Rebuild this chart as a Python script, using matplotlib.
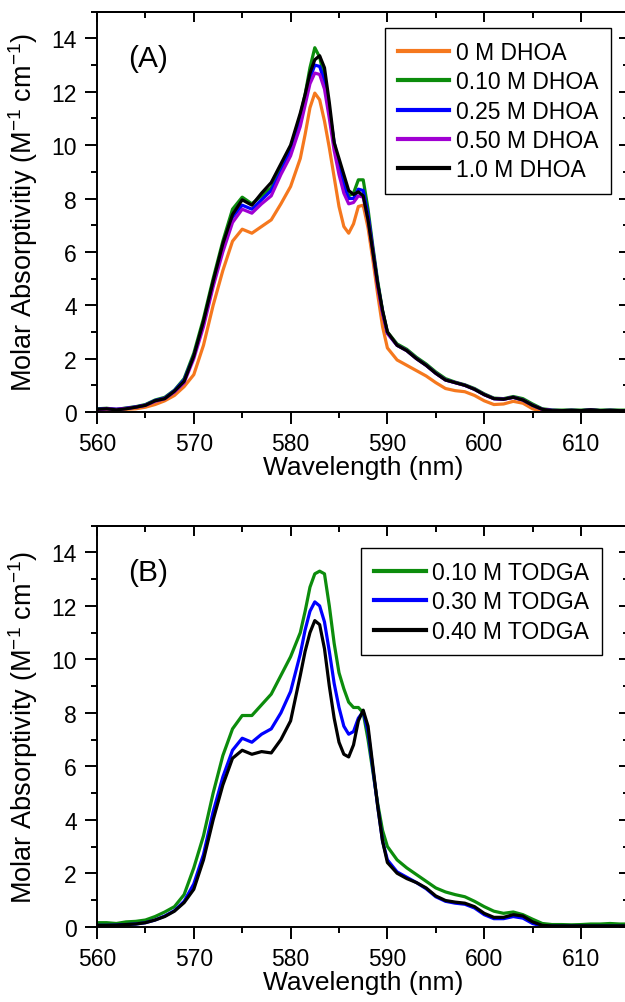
import matplotlib
matplotlib.use("Agg")
import matplotlib.pyplot as plt
from matplotlib.ticker import MultipleLocator

plt.rcParams['font.family'] = ['Liberation Sans', 'DejaVu Sans']
plt.rcParams['mathtext.fontset'] = 'custom'
plt.rcParams['mathtext.rm'] = 'Liberation Sans'
plt.rcParams['mathtext.it'] = 'Liberation Sans:italic'

# ---------------- data ----------------
wl = [560, 561, 562, 563, 564, 565, 566, 567, 568, 569, 570, 571, 572, 573, 574,
      575, 576, 577, 578, 579, 580, 581, 581.5, 582, 582.5, 583, 583.5, 584, 584.5,
      585, 585.5, 586, 586.5, 587, 587.5, 588, 588.5, 589, 589.5, 590, 591, 592,
      593, 594, 595, 596, 597, 598, 599, 600, 601, 602, 603, 604, 605, 606, 607,
      608, 609, 610, 611, 612, 613, 614, 615]

# Panel A (DHOA)
dhoa_0 = [0.05, 0.05, 0.08, 0.10, 0.12, 0.18, 0.28, 0.42, 0.62, 0.95, 1.4, 2.5, 4.0, 5.3, 6.4,
          6.85, 6.7, 6.95, 7.2, 7.8, 8.45, 9.5, 10.4, 11.4, 11.95, 11.7, 10.9, 9.9, 8.8,
          7.7, 6.95, 6.7, 7.05, 7.7, 7.75, 6.9, 5.7, 4.4, 3.2, 2.4, 1.95, 1.75,
          1.55, 1.35, 1.1, 0.88, 0.8, 0.76, 0.62, 0.42, 0.28, 0.3, 0.4, 0.33, 0.12, 0.02, 0.0,
          0.0, 0.0, 0.0, 0.0, 0.0, 0.0, 0.0, 0.0]
dhoa_010 = [0.12, 0.14, 0.1, 0.15, 0.2, 0.28, 0.45, 0.55, 0.82, 1.25, 2.2, 3.5, 5.0, 6.4, 7.6,
            8.05, 7.8, 8.1, 8.4, 9.1, 9.9, 11.1, 11.9, 12.9, 13.65, 13.3, 12.5, 11.2, 10.0,
            9.2, 8.6, 8.1, 8.2, 8.7, 8.7, 7.6, 6.2, 4.9, 3.8, 3.0, 2.55, 2.35,
            2.05, 1.8, 1.5, 1.25, 1.12, 1.02, 0.88, 0.68, 0.52, 0.5, 0.58, 0.5, 0.3, 0.12, 0.08,
            0.07, 0.08, 0.07, 0.09, 0.07, 0.08, 0.07, 0.07]
dhoa_025 = [0.1, 0.13, 0.1, 0.14, 0.19, 0.26, 0.43, 0.52, 0.8, 1.2, 2.1, 3.3, 4.8, 6.2, 7.3,
            7.75, 7.6, 7.95, 8.3, 9.0, 9.8, 10.9, 11.7, 12.5, 13.0, 12.95, 12.4, 11.3, 10.1,
            9.2, 8.5, 8.0, 8.0, 8.35, 8.3, 7.4, 6.1, 4.8, 3.75, 2.95, 2.5, 2.3,
            2.0, 1.75, 1.45, 1.2, 1.1, 1.0, 0.85, 0.65, 0.5, 0.48, 0.55, 0.45, 0.25, 0.1, 0.06,
            0.05, 0.06, 0.05, 0.07, 0.05, 0.06, 0.05, 0.05]
dhoa_050 = [0.08, 0.12, 0.1, 0.13, 0.18, 0.25, 0.4, 0.5, 0.75, 1.1, 2.0, 3.2, 4.7, 6.0, 7.1,
            7.6, 7.45, 7.8, 8.1, 8.9, 9.6, 10.7, 11.5, 12.3, 12.7, 12.65, 12.1, 11.0, 9.8,
            8.9, 8.2, 7.8, 7.85, 8.1, 8.05, 7.2, 6.0, 4.7, 3.7, 2.95, 2.5, 2.3,
            2.0, 1.75, 1.45, 1.2, 1.1, 1.0, 0.85, 0.65, 0.5, 0.48, 0.55, 0.45, 0.25, 0.1, 0.06,
            0.05, 0.06, 0.05, 0.07, 0.05, 0.06, 0.05, 0.05]
dhoa_100 = [0.1, 0.12, 0.08, 0.12, 0.18, 0.25, 0.42, 0.5, 0.78, 1.15, 2.1, 3.4, 4.9, 6.3, 7.4,
            7.95, 7.75, 8.2, 8.6, 9.3, 10.0, 11.2, 11.9, 12.7, 13.2, 13.35, 12.9, 11.6, 10.1,
            9.5, 8.9, 8.3, 8.15, 8.25, 8.1, 7.2, 6.0, 4.8, 3.8, 3.0, 2.5, 2.3,
            2.0, 1.75, 1.45, 1.2, 1.1, 1.0, 0.85, 0.65, 0.5, 0.48, 0.55, 0.45, 0.25, 0.1, 0.05,
            0.05, 0.06, 0.05, 0.08, 0.05, 0.06, 0.05, 0.05]

# Panel B (TODGA)
todga_010 = [0.15, 0.15, 0.12, 0.18, 0.2, 0.25, 0.38, 0.55, 0.75, 1.2, 2.2, 3.4, 5.0, 6.4, 7.4,
             7.9, 7.9, 8.3, 8.7, 9.4, 10.1, 11.0, 11.8, 12.7, 13.2, 13.3, 13.2, 12.0, 10.6,
             9.5, 8.9, 8.4, 8.2, 8.2, 8.0, 7.0, 5.8, 4.6, 3.6, 3.0, 2.5, 2.2,
             1.95, 1.7, 1.45, 1.3, 1.2, 1.12, 0.95, 0.75, 0.58, 0.5, 0.55, 0.45, 0.28, 0.12, 0.08,
             0.08, 0.07, 0.08, 0.1, 0.1, 0.12, 0.1, 0.1]
todga_030 = [0.05, 0.05, 0.06, 0.08, 0.1, 0.15, 0.25, 0.4, 0.6, 0.95, 1.6, 2.7, 4.3, 5.6, 6.6,
             7.05, 6.9, 7.2, 7.4, 8.0, 8.8, 10.2, 11.1, 11.8, 12.15, 12.0, 11.4, 10.3, 9.1,
             8.2, 7.5, 7.2, 7.3, 7.8, 8.05, 7.3, 5.9, 4.5, 3.2, 2.5, 2.05, 1.85,
             1.65, 1.42, 1.12, 0.95, 0.88, 0.84, 0.7, 0.45, 0.3, 0.3, 0.38, 0.32, 0.12, 0.02, 0.02,
             0.02, 0.02, 0.02, 0.02, 0.02, 0.02, 0.02, 0.02]
todga_040 = [0.05, 0.05, 0.06, 0.08, 0.1, 0.15, 0.25, 0.38, 0.58, 0.9, 1.4, 2.5, 4.0, 5.3, 6.3,
             6.6, 6.45, 6.55, 6.5, 7.0, 7.7, 9.4, 10.3, 11.0, 11.45, 11.3, 10.4, 9.0, 7.8,
             6.9, 6.45, 6.35, 6.8, 7.7, 8.1, 7.5, 6.0, 4.5, 3.2, 2.4, 2.0, 1.8,
             1.65, 1.45, 1.15, 0.98, 0.92, 0.88, 0.75, 0.5, 0.35, 0.35, 0.45, 0.4, 0.18, 0.05, 0.03,
             0.03, 0.03, 0.03, 0.03, 0.03, 0.03, 0.03, 0.03]

labels_a = ['0 M DHOA', '0.10 M DHOA', '0.25 M DHOA', '0.50 M DHOA', '1.0 M DHOA']
series_a = [dhoa_0, dhoa_010, dhoa_025, dhoa_050, dhoa_100]
colors_a = ['#F5781E', '#0C8C0C', '#0000FF', '#A000D2', '#000000']

labels_b = ['0.10 M TODGA', '0.30 M TODGA', '0.40 M TODGA']
series_b = [todga_010, todga_030, todga_040]
colors_b = ['#0C8C0C', '#0000FF', '#000000']

xticks = [560, 570, 580, 590, 600, 610]
yticks = [0, 2, 4, 6, 8, 10, 12, 14]

# ---------------- figure ----------------
W, H = 625, 1003
fig = plt.figure(figsize=(W / 100, H / 100), dpi=100)

left = 97 / W
width = 532.4 / W
ax_a = fig.add_axes([left, 1 - 413 / H, width, 400.3 / H])
ax_b = fig.add_axes([left, 1 - 927.7 / H, width, 401 / H])


def style(ax, series, labels, colors, ylabel, tag, leg_anchor):
    for y, lab, c in zip(series, labels, colors):
        ax.plot(wl, y, color=c, lw=2.3, label=lab, solid_joinstyle='round')
    ax.set_xlim(560, 615)
    ax.set_ylim(0, 15)
    ax.set_xticks(xticks)
    ax.set_yticks(yticks)
    ax.xaxis.set_minor_locator(MultipleLocator(5))
    ax.yaxis.set_minor_locator(MultipleLocator(1))
    for sp in ax.spines.values():
        sp.set_linewidth(1.4)
    ax.tick_params(which='major', direction='out', length=8.5, width=1.4,
                   labelsize=16.5, pad=6)
    ax.tick_params(which='minor', direction='out', length=4.2, width=1.4)
    # top / right ticks pointing inward
    top = ax.secondary_xaxis('top')
    top.set_xticks(xticks)
    top.xaxis.set_minor_locator(MultipleLocator(5))
    top.tick_params(which='major', direction='in', length=7.5, width=1.4, labeltop=False)
    top.tick_params(which='minor', direction='in', length=4, width=1.4)
    top.spines['top'].set_linewidth(1.4)
    right = ax.secondary_yaxis('right')
    right.set_yticks(yticks)
    right.yaxis.set_minor_locator(MultipleLocator(1))
    right.tick_params(which='major', direction='in', length=7.5, width=1.4, labelright=False)
    right.tick_params(which='minor', direction='in', length=4, width=1.4)

    ax.set_xlabel('Wavelength (nm)', fontsize=19)
    ax.xaxis.set_label_coords(0.5, -0.108)
    ax.set_ylabel(ylabel, fontsize=19.5)
    ax.yaxis.set_label_coords(-0.108, 0.5)
    ax.text(0.058, 0.885, tag, transform=ax.transAxes, fontsize=21.5,
            ha='left', va='center')
    leg = ax.legend(loc='upper right', bbox_to_anchor=leg_anchor, fontsize=16.5,
                    frameon=True, fancybox=False, framealpha=1, edgecolor='black',
                    handlelength=2.25, handletextpad=0.3, labelspacing=0.28,
                    borderpad=0.55, borderaxespad=0)
    leg.get_frame().set_linewidth(1.0)
    for h in leg.get_lines():
        h.set_linewidth(3.0)


style(ax_a, series_a, labels_a, colors_a,
      'Molar Absorptivitiy (M$^{\\mathregular{-1}}$ cm$^{\\mathregular{-1}}$)', '(A)',
      (0.9658, 0.959))
style(ax_b, series_b, labels_b, colors_b,
      'Molar Absorptivity (M$^{\\mathregular{-1}}$ cm$^{\\mathregular{-1}}$)', '(B)',
      (0.9485, 0.9436))

fig.savefig('out.png', dpi=100)
